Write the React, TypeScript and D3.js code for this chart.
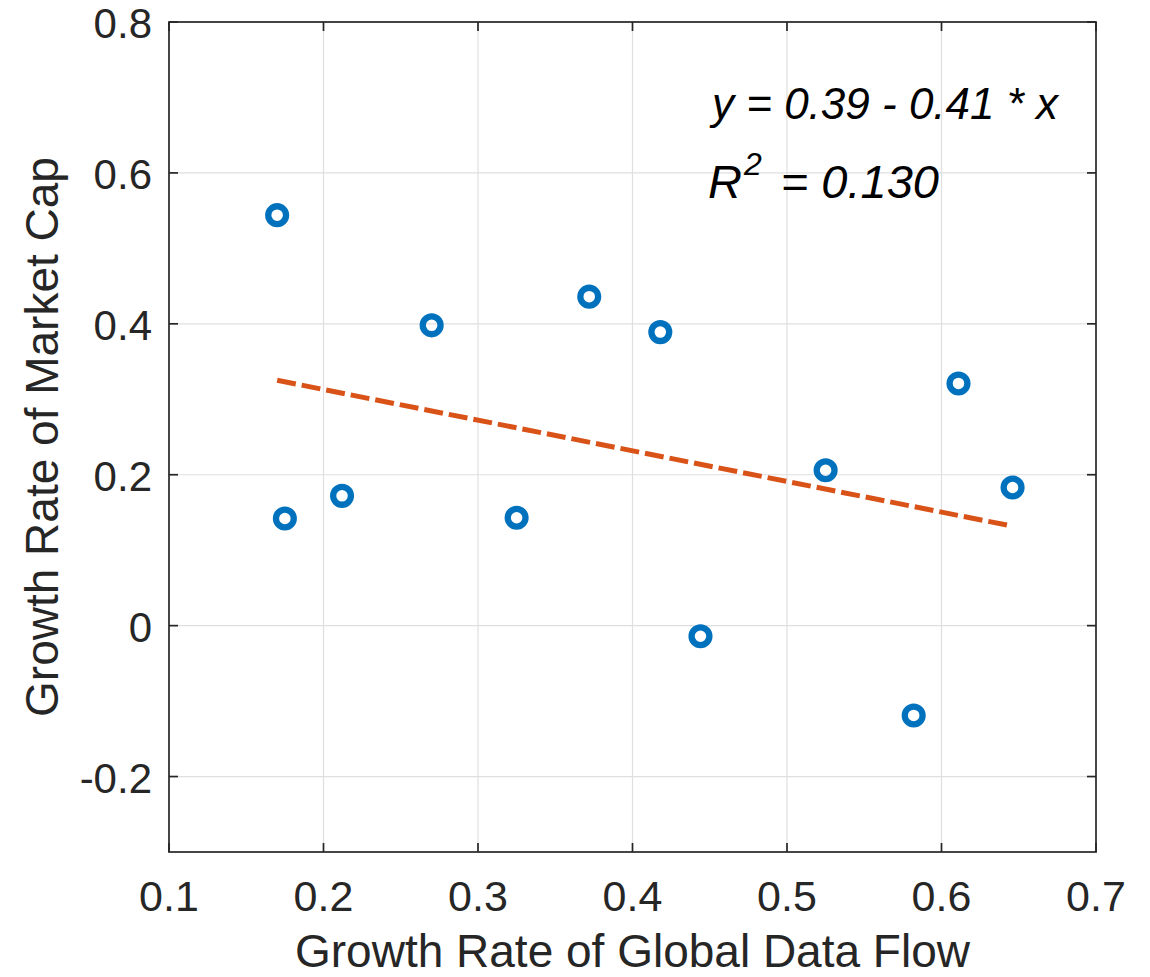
import React, { useEffect, useRef } from 'react';
import * as d3 from 'd3';

const flowGrowth = [0.17, 0.175, 0.212, 0.27, 0.325, 0.372, 0.418, 0.444, 0.525, 0.582, 0.611, 0.646];
const capGrowth = [0.544, 0.142, 0.172, 0.398, 0.143, 0.436, 0.389, -0.014, 0.206, -0.119, 0.321, 0.183];
const xTicks = [0.1, 0.2, 0.3, 0.4, 0.5, 0.6, 0.7];
const yTicks = [-0.2, 0, 0.2, 0.4, 0.6, 0.8];
const eqText = 'y = 0.39 - 0.41 * x';
const r2Text = '0.130';

const W = 1150;
const H = 977;
const FONT = 'Arial, "Liberation Sans", Helvetica, sans-serif';

const fmt = (d: number) => (d === 0 ? '0' : d3.format('.1f')(d).replace('\u2212', '-'));

export default function App() {
  const ref = useRef<SVGSVGElement>(null);

  useEffect(() => {
    document.body.style.margin = '0';
    const svg = d3.select(ref.current);
    svg.selectAll('*').remove();

    const left = 169, right = 1096, top = 22, bottom = 852;
    const x = d3.scaleLinear().domain([0.1, 0.7]).range([left, right]);
    const y = d3.scaleLinear().domain([-0.3, 0.8]).range([bottom, top]);
    const axisColor = '#262626';

    svg.append('rect').attr('width', W).attr('height', H).attr('fill', '#fff');

    // grid
    const grid = svg.append('g').attr('stroke', '#dfdfdf').attr('stroke-width', 1.2);
    grid.selectAll('line.vx').data(xTicks.slice(1, -1)).enter().append('line')
      .attr('x1', (d) => x(d)).attr('x2', (d) => x(d)).attr('y1', top).attr('y2', bottom);
    grid.selectAll('line.hy').data(yTicks).enter().append('line')
      .attr('x1', left).attr('x2', right).attr('y1', (d) => y(d)).attr('y2', (d) => y(d));

    // regression line from the points
    const n = flowGrowth.length;
    const mx = d3.mean(flowGrowth) as number;
    const my = d3.mean(capGrowth) as number;
    let sxy = 0, sxx = 0;
    for (let i = 0; i < n; i++) {
      sxy += (flowGrowth[i] - mx) * (capGrowth[i] - my);
      sxx += (flowGrowth[i] - mx) ** 2;
    }
    const slope = sxy / sxx;
    const icpt = my - slope * mx;
    const ext = d3.extent(flowGrowth) as [number, number];
    const line = d3.line<number>().x((d) => x(d)).y((d) => y(icpt + slope * d));
    svg.append('path')
      .datum(ext)
      .attr('d', line)
      .attr('fill', 'none')
      .attr('stroke', '#D95319')
      .attr('stroke-width', 5)
      .attr('stroke-dasharray', '19,6');

    // points
    svg.selectAll('circle.pt')
      .data(flowGrowth)
      .enter()
      .append('circle')
      .attr('cx', (d) => x(d))
      .attr('cy', (d, i) => y(capGrowth[i]))
      .attr('r', 8.9)
      .attr('fill', 'none')
      .attr('stroke', '#0072BD')
      .attr('stroke-width', 6.3);

    // box + ticks
    svg.append('rect')
      .attr('x', left).attr('y', top).attr('width', right - left).attr('height', bottom - top)
      .attr('fill', 'none').attr('stroke', axisColor).attr('stroke-width', 1.7);
    const tk = svg.append('g').attr('stroke', axisColor).attr('stroke-width', 1.7);
    const tl = 9;
    xTicks.forEach((d) => {
      tk.append('line').attr('x1', x(d)).attr('x2', x(d)).attr('y1', bottom).attr('y2', bottom - tl);
      tk.append('line').attr('x1', x(d)).attr('x2', x(d)).attr('y1', top).attr('y2', top + tl);
    });
    yTicks.forEach((d) => {
      tk.append('line').attr('x1', left).attr('x2', left + tl).attr('y1', y(d)).attr('y2', y(d));
      tk.append('line').attr('x1', right).attr('x2', right - tl).attr('y1', y(d)).attr('y2', y(d));
    });

    // tick labels
    svg.selectAll('text.xt')
      .data(xTicks)
      .enter()
      .append('text')
      .attr('x', (d) => x(d))
      .attr('y', 911)
      .attr('text-anchor', 'middle')
      .attr('font-family', FONT)
      .attr('font-size', 43)
      .attr('fill', axisColor)
      .text((d) => fmt(d));
    svg.selectAll('text.yt')
      .data(yTicks)
      .enter()
      .append('text')
      .attr('x', 152)
      .attr('y', (d) => y(d) + 16)
      .attr('text-anchor', 'end')
      .attr('font-family', FONT)
      .attr('font-size', 42)
      .attr('fill', axisColor)
      .text((d) => fmt(d));

    // axis titles
    svg.append('text')
      .attr('x', (left + right) / 2)
      .attr('y', 967)
      .attr('text-anchor', 'middle')
      .attr('font-family', FONT)
      .attr('font-size', 46)
      .attr('fill', axisColor)
      .text('Growth Rate of Global Data Flow');
    svg.append('text')
      .attr('transform', `translate(58,${(top + bottom) / 2}) rotate(-90)`)
      .attr('text-anchor', 'middle')
      .attr('font-family', FONT)
      .attr('font-size', 46)
      .attr('fill', axisColor)
      .text('Growth Rate of Market Cap');

    // annotations
    svg.append('text')
      .attr('x', 712)
      .attr('y', 119)
      .attr('font-family', FONT)
      .attr('font-size', 44)
      .attr('font-style', 'italic')
      .attr('fill', '#000')
      .text(eqText);
    const r2 = svg.append('text')
      .attr('x', 708)
      .attr('y', 198)
      .attr('font-family', FONT)
      .attr('font-size', 47)
      .attr('font-style', 'italic')
      .attr('fill', '#000');
    r2.append('tspan').text('R');
    r2.append('tspan').attr('dy', -23).attr('dx', 2).attr('font-size', 32).text('2');
    r2.append('tspan').attr('dy', 23).attr('dx', 6).text(' = ' + r2Text);
  }, []);

  return <svg ref={ref} width={W} height={H} style={{ display: 'block' }} />;
}
